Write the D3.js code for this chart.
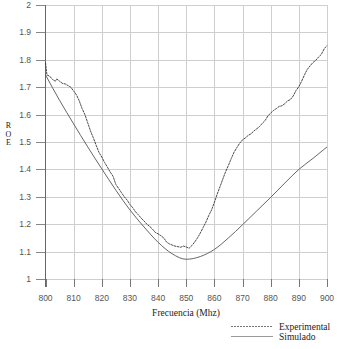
<!DOCTYPE html>
<html>
<head>
<meta charset="utf-8">
<script src="https://cdn.jsdelivr.net/npm/d3@7"></script>
<style>
  body { margin: 0; background: #fff; }
  svg { display: block; }
</style>
</head>
<body>
<div id="chart"></div>
<script>
const W = 337, H = 349
const xTicks = [800, 810, 820, 830, 840, 850, 860, 870, 880, 890, 900]
const yTicks = [1, 1.1, 1.2, 1.3, 1.4, 1.5, 1.6, 1.7, 1.8, 1.9, 2]
const yTickLabels = ['1', '1.1', '1.2', '1.3', '1.4', '1.5', '1.6', '1.7', '1.8', '1.9', '2']

// simulated ROE
const simFreq = [800, 805, 810, 815, 820, 825, 830, 835, 840, 845, 850, 855, 860, 865, 870, 875, 880, 885, 890, 895, 900]
const simRoe = [1.745, 1.652, 1.566, 1.482, 1.402, 1.324, 1.252, 1.19, 1.134, 1.092, 1.072, 1.082, 1.108, 1.15, 1.198, 1.248, 1.298, 1.35, 1.4, 1.44, 1.482]

const expFreq = [800, 800.5, 801.5, 802.5, 803.5, 804, 805, 806, 807, 808, 809, 810, 811, 812, 813, 814, 815, 816, 817, 818, 819,
  820, 821, 822, 823, 824, 825, 826, 827, 828, 829, 830, 831, 832, 833, 834, 835, 836, 837, 838, 839,
  840, 841, 842, 843, 844, 845, 846, 847, 848, 849, 850, 851, 852, 853, 854, 855, 856, 857, 858, 859,
  860, 861, 862, 863, 864, 865, 866, 867, 868, 869, 870, 871, 872, 873, 874, 875, 876, 877, 878, 879,
  880, 881, 882, 883, 884, 885, 886, 887, 888, 889, 890, 891, 892, 893, 894, 895, 896, 897, 898, 899, 900]
const expRoe = [1.79, 1.745, 1.74, 1.728, 1.722, 1.73, 1.722, 1.714, 1.712, 1.706, 1.7, 1.686, 1.672, 1.65, 1.622, 1.6, 1.57, 1.54, 1.515, 1.488, 1.462,
  1.445, 1.425, 1.408, 1.39, 1.375, 1.345, 1.33, 1.315, 1.3, 1.288, 1.272, 1.26, 1.245, 1.234, 1.222, 1.212, 1.2, 1.192, 1.182, 1.17,
  1.165, 1.158, 1.15, 1.135, 1.128, 1.124, 1.12, 1.118, 1.116, 1.12, 1.117, 1.112, 1.122, 1.135, 1.15, 1.168, 1.188, 1.208, 1.232, 1.252,
  1.28, 1.31, 1.337, 1.365, 1.392, 1.415, 1.44, 1.463, 1.48, 1.496, 1.508, 1.515, 1.524, 1.53, 1.54, 1.548, 1.556, 1.568, 1.578, 1.595,
  1.606, 1.615, 1.622, 1.63, 1.632, 1.64, 1.65, 1.655, 1.668, 1.688, 1.702, 1.722, 1.745, 1.765, 1.778, 1.79, 1.798, 1.81, 1.82, 1.84, 1.852]

const seriesNames = ['Experimental', 'Simulado']

const svg = d3.select('#chart').append('svg').attr('width', W).attr('height', H)

const x = d3.scaleLinear().domain([800, 900]).range([45.5, 327])
const y = d3.scaleLinear().domain([1, 2]).range([279, 5])

// horizontal grid (extends left as tick marks)
svg.append('g').selectAll('line').data(yTicks).join('line')
  .attr('x1', 37).attr('x2', x(900))
  .attr('y1', d => Math.round(y(d)) + 0.5).attr('y2', d => Math.round(y(d)) + 0.5)
  .attr('stroke', '#cfcfcf').attr('stroke-width', 1)
svg.append('g').selectAll('line').data(yTicks).join('line')
  .attr('x1', 36).attr('x2', 45)
  .attr('y1', d => Math.round(y(d)) + 0.5).attr('y2', d => Math.round(y(d)) + 0.5)
  .attr('stroke', '#888')

// vertical grid
svg.append('g').selectAll('line').data(xTicks.slice(1)).join('line')
  .attr('x1', d => Math.round(x(d)) + 0.5).attr('x2', d => Math.round(x(d)) + 0.5)
  .attr('y1', y(2)).attr('y2', y(1))
  .attr('stroke', '#cfcfcf')
// bottom ticks
svg.append('g').selectAll('line').data(xTicks).join('line')
  .attr('x1', d => Math.round(x(d)) + 0.5).attr('x2', d => Math.round(x(d)) + 0.5)
  .attr('y1', y(1)).attr('y2', y(1) + 8)
  .attr('stroke', '#777')

// left axis line
svg.append('line').attr('x1', 45.5).attr('x2', 45.5).attr('y1', y(2)).attr('y2', y(1) + 8)
  .attr('stroke', '#666')

// tick labels
svg.append('g').selectAll('text').data(yTicks).join('text')
  .attr('x', 31).attr('y', d => y(d) + 3)
  .attr('text-anchor', 'end')
  .attr('font-family', 'Liberation Sans, Arial, sans-serif').attr('font-size', 8.5).attr('fill', '#555')
  .text((d, i) => yTickLabels[i])
svg.append('g').selectAll('text').data(xTicks).join('text')
  .attr('x', d => x(d)).attr('y', 301)
  .attr('text-anchor', 'middle')
  .attr('font-family', 'Liberation Sans, Arial, sans-serif').attr('font-size', 8.5).attr('fill', '#555')
  .text(d => d)

// axis titles
svg.append('text').attr('x', 186).attr('y', 316).attr('text-anchor', 'middle')
  .attr('font-family', 'Liberation Serif, Times New Roman, serif').attr('font-size', 9.5).attr('fill', '#222')
  .text('Frecuencia (Mhz)')
svg.append('g').selectAll('text').data(['R', 'O', 'E']).join('text')
  .attr('x', 8.5).attr('y', (d, i) => 128 + i * 8.5).attr('text-anchor', 'middle')
  .attr('font-family', 'Liberation Serif, Times New Roman, serif').attr('font-size', 8).attr('fill', '#222')
  .text(d => d)

// curves
const simLine = d3.line().curve(d3.curveMonotoneX)
  .x(d => x(d[0])).y(d => y(d[1]))
const expLine = d3.line()
  .x(d => x(d[0])).y(d => y(d[1]))

svg.append('path').attr('d', simLine(d3.zip(simFreq, simRoe)))
  .attr('fill', 'none').attr('stroke', '#555').attr('stroke-width', 0.9)
svg.append('path').attr('d', expLine(d3.zip(expFreq, expRoe)))
  .attr('fill', 'none').attr('stroke', '#333').attr('stroke-width', 0.9)
  .attr('stroke-dasharray', '2.5,0.6')

// legend
const legend = svg.append('g')
legend.append('line').attr('x1', 231).attr('x2', 273).attr('y1', 326.5).attr('y2', 326.5)
  .attr('stroke', '#777').attr('stroke-dasharray', '2,1')
legend.append('line').attr('x1', 231).attr('x2', 273).attr('y1', 336.5).attr('y2', 336.5)
  .attr('stroke', '#999')
legend.selectAll('text').data(seriesNames).join('text')
  .attr('x', 279).attr('y', (d, i) => 330 + i * 10)
  .attr('font-family', 'Liberation Serif, Times New Roman, serif').attr('font-size', 9.5).attr('fill', '#222')
  .text(d => d)
</script>
</body>
</html>
